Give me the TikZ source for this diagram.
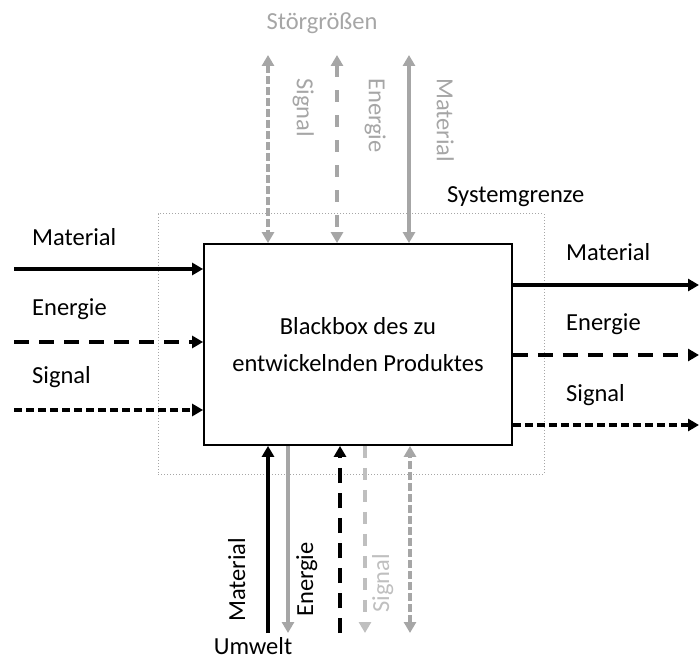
\documentclass[tikz,border=0pt]{standalone}
\usepackage{fontspec}
\setmainfont{Carlito}
\usetikzlibrary{arrows.meta}
\definecolor{midgray}{RGB}{166,166,166}
\definecolor{lightgray2}{RGB}{191,191,191}
\tikzset{
  tip/.tip={Triangle[length=11pt,width=12pt]},
  flow/.style={line width=3.2pt, -tip},
  bothflow/.style={line width=3.2pt, tip-tip},
  mat/.style={},
  ene/.style={dash pattern=on 15pt off 10pt},
  sig/.style={dash pattern=on 8pt off 4pt},
  lbl/.style={font=\fontsize{24.5}{27}\selectfont, inner sep=0pt},
}
\begin{document}
\begin{tikzpicture}[x=1pt,y=-1pt]
\useasboundingbox (0,0) rectangle (699,660);

% system boundary and black box
\node[draw=midgray, dotted, line width=1pt, minimum width=386pt, minimum height=260pt, inner sep=0pt] (sg) at (351,344) {};
\node[draw, line width=1.8pt, minimum width=308pt, minimum height=201pt, inner sep=0pt, align=center,
      font=\fontsize{24.5}{37}\selectfont] (bb) at (358,344.5) {Blackbox des zu\\entwickelnden Produktes};
\node[lbl, anchor=base west] (sgl) at (447,203) {Systemgrenze};

% inputs (left)
\coordinate (im) at (14,269);
\coordinate (ie) at (14,342);
\coordinate (is) at (14,410);
\draw[flow, mat] (im) -- (bb.west |- im);
\draw[flow, ene] (ie) -- (bb.west |- ie);
\draw[flow, sig] (is) -- (bb.west |- is);
\node[lbl, anchor=base west] (iml) at (32,246) {Material};
\node[lbl, anchor=base west] (iel) at (32,316) {Energie};
\node[lbl, anchor=base west] (isl) at (32,384) {Signal};

% outputs (right)
\coordinate (om) at (699,285);
\coordinate (oe) at (699,355);
\coordinate (os) at (699,425);
\draw[flow, mat] (bb.east |- om) -- (om);
\draw[flow, ene] (bb.east |- oe) -- (oe);
\draw[flow, sig] (bb.east |- os) -- (os);
\node[lbl, anchor=base west] (oml) at (566,261) {Material};
\node[lbl, anchor=base west] (oel) at (566,331) {Energie};
\node[lbl, anchor=base west] (osl) at (566,401) {Signal};

% disturbances (top)
\node[lbl, text=midgray, anchor=base] (stg) at (322,30) {Störgrößen};
\coordinate (ts) at (268,55);
\coordinate (te) at (337,55);
\coordinate (tm) at (409,55);
\draw[bothflow, midgray, dash pattern=on 8pt off 3pt] (ts) -- (bb.north -| ts);
\draw[bothflow, midgray, dash pattern=on 12pt off 13pt] (te) -- (bb.north -| te);
\draw[bothflow, midgray] (tm) -- (bb.north -| tm);
\node[lbl, text=midgray, rotate=-90, anchor=north west] (tsl) at (314,78) {Signal};
\node[lbl, text=midgray, rotate=-90, anchor=north west] (tel) at (386,78) {Energie};
\node[lbl, text=midgray, rotate=-90, anchor=north west] (tml) at (454,78) {Material};

% environment (bottom)
\coordinate (um) at (268,633);
\coordinate (ue) at (288,633);
\coordinate (ux) at (340,633);
\coordinate (us) at (365,633);
\coordinate (ud) at (410,633);
\draw[flow] (um) -- (bb.south -| um);
\draw[flow, midgray] (bb.south -| ue) -- (ue);
\draw[flow, dash pattern=on 15pt off 10pt] (ux) -- (bb.south -| ux);
\draw[flow, lightgray2, dash pattern=on 12pt off 10pt] (bb.south -| us) -- (us);
\draw[bothflow, midgray, dash pattern=on 8pt off 3pt] (ud) -- (bb.south -| ud);
\node[lbl, rotate=90, anchor=base west] (uml) at (245,622) {Material};
\node[lbl, rotate=90, anchor=base west] (uel) at (313,617) {Energie};
\node[lbl, text=lightgray2, rotate=90, anchor=base west] (usl) at (389,613) {Signal};
\node[lbl, anchor=base] (uw) at (253,654) {Umwelt};
\end{tikzpicture}
\end{document}
